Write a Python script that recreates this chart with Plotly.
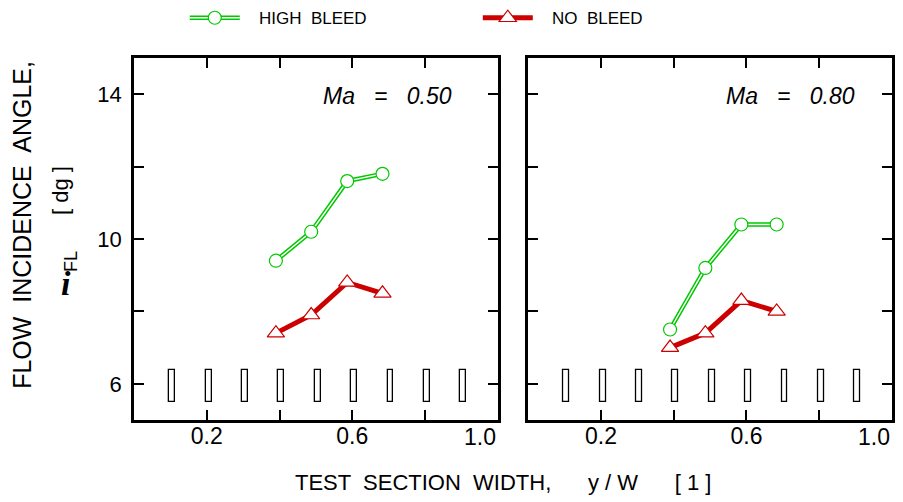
import plotly.graph_objects as go

# ---- data ----
x_pos = [0.39, 0.487, 0.586, 0.683]
high_bleed_050 = [9.4, 10.2, 11.6, 11.8]
no_bleed_050 = [7.4, 7.9, 8.8, 8.5]
high_bleed_080 = [7.5, 9.2, 10.4, 10.4]
no_bleed_080 = [7.0, 7.4, 8.3, 8.0]
probe_x = [0.105, 0.205, 0.305, 0.405, 0.505, 0.605, 0.705, 0.805, 0.905]
probe_base = 5.5
probe_height = 0.87
panel_labels = ["Ma   =   0.50", "Ma   =   0.80"]
x_tickvals = [0.2, 0.4, 0.6, 0.8, 1.0]
x_ticktext = ["0.2", "", "0.6", "", ""]
x_end_label = "1.0"
y_tickvals = [6, 8, 10, 12, 14]
y_ticktext = ["6", "", "10", "", "14"]

GREEN = "#00c800"
RED = "#cc0000"
FONT = "Arial, Liberation Sans, sans-serif"
SERIF = "Liberation Serif, Times New Roman, serif"

fig = go.Figure()

panels = [
    ("x", "y", high_bleed_050, no_bleed_050),
    ("x2", "y2", high_bleed_080, no_bleed_080),
]
for i, (xa, ya, hb, nb) in enumerate(panels):
    first = i == 0
    # probe rectangles
    fig.add_trace(go.Bar(
        x=probe_x, y=[probe_height] * len(probe_x), base=probe_base,
        width=0.016, marker=dict(color="white", line=dict(color="black", width=1.3)),
        xaxis=xa, yaxis=ya, showlegend=False, hoverinfo="skip"))
    # high bleed: outer green
    fig.add_trace(go.Scatter(
        x=x_pos, y=hb, mode="lines", line=dict(color=GREEN, width=4.5),
        name="   HIGH  BLEED", legendgroup="hb", showlegend=first, legend="legend",
        xaxis=xa, yaxis=ya))
    # high bleed: inner white + markers
    fig.add_trace(go.Scatter(
        x=x_pos, y=hb, mode="lines+markers", line=dict(color="white", width=1.5),
        marker=dict(symbol="circle", size=13, color="white", line=dict(color=GREEN, width=1.2)),
        name=" ", legendgroup="hb", showlegend=first, legend="legend2",
        xaxis=xa, yaxis=ya))
    # no bleed
    fig.add_trace(go.Scatter(
        x=x_pos, y=nb, mode="lines+markers", line=dict(color=RED, width=5),
        marker=dict(symbol="triangle-up", size=15, color="white", line=dict(color=RED, width=1.2)),
        name="   NO  BLEED", legendgroup="nb", showlegend=first, legend="legend",
        xaxis=xa, yaxis=ya))

axis_common = dict(
    range=[0, 1], tickvals=x_tickvals, ticktext=x_ticktext, ticks="inside", ticklen=10,
    tickwidth=1.5, tickcolor="black", showline=True, linewidth=2.5, linecolor="black",
    mirror="ticks", showgrid=False, zeroline=False, ticklabelstandoff=-6,
    tickfont=dict(family=FONT, size=23, color="black"))
yaxis_common = dict(
    range=[5, 15], tickvals=y_tickvals, ticktext=y_ticktext, ticks="inside", ticklen=10,
    tickwidth=1.5, tickcolor="black", showline=True, linewidth=2.5, linecolor="black",
    mirror="ticks", showgrid=False, zeroline=False)

fig.update_layout(
    width=903, height=502,
    margin=dict(l=134, r=11, t=58, b=82, autoexpand=False),
    paper_bgcolor="white", plot_bgcolor="white",
    font=dict(family=FONT, color="black"),
    xaxis=dict(domain=[0, 0.48], **axis_common),
    xaxis2=dict(domain=[0.52, 1.0], **axis_common),
    yaxis=dict(domain=[0, 1], anchor="x", ticklabelstandoff=5,
               tickfont=dict(family=FONT, size=22, color="black"), **yaxis_common),
    yaxis2=dict(domain=[0, 1], anchor="x2", showticklabels=False, **yaxis_common),
    showlegend=True,
    legend=dict(orientation="h", x=0.067, y=1.11, xanchor="left", yanchor="middle",
                font=dict(family=FONT, size=17, color="black"), bgcolor="rgba(0,0,0,0)",
                itemwidth=50, entrywidth=228, traceorder="normal"),
    legend2=dict(orientation="h", x=0.067, y=1.11, xanchor="left", yanchor="middle",
                 font=dict(family=FONT, size=17, color="black"), bgcolor="rgba(0,0,0,0)",
                 itemwidth=50),
    bargap=0,
)

annotations = [
    dict(text=panel_labels[0], xref="x", yref="y", x=0.88, y=13.95, xanchor="right",
         yanchor="middle", showarrow=False, font=dict(family=FONT, size=23, style="italic")),
    dict(text=panel_labels[1], xref="x2", yref="y2", x=0.905, y=13.95, xanchor="right",
         yanchor="middle", showarrow=False, font=dict(family=FONT, size=23, style="italic")),
    dict(text=x_end_label, xref="x", yref="paper", x=x_tickvals[-1], y=-0.047, xanchor="right",
         yanchor="middle", showarrow=False, font=dict(family=FONT, size=23)),
    dict(text=x_end_label, xref="x2", yref="paper", x=x_tickvals[-1], y=-0.047, xanchor="right",
         yanchor="middle", showarrow=False, font=dict(family=FONT, size=23)),
    dict(text="TEST  SECTION  WIDTH,      y / W      [ 1 ]", xref="paper", yref="paper",
         x=0.487, y=-0.174, xanchor="center", yanchor="middle", showarrow=False,
         font=dict(family=FONT, size=22)),
    dict(text="FLOW  INCIDENCE  ANGLE,", xref="paper", yref="paper", x=-0.1478, y=0.539,
         xanchor="center", yanchor="middle", textangle=-90, showarrow=False,
         font=dict(family=FONT, size=25)),
    dict(text="[ dg ]", xref="paper", yref="paper", x=-0.0963, y=0.6326,
         xanchor="center", yanchor="middle", textangle=-90, showarrow=False,
         font=dict(family=FONT, size=22)),
    dict(text="<b><i>i</i></b>", xref="paper", yref="paper", x=-0.0897, y=0.3757,
         xanchor="center", yanchor="middle", showarrow=False,
         font=dict(family=SERIF, size=34)),
    dict(text="FL", xref="paper", yref="paper", x=-0.0831, y=0.4365,
         xanchor="center", yanchor="middle", textangle=-90, showarrow=False,
         font=dict(family=FONT, size=18)),
]
fig.update_layout(annotations=annotations)

fig.write_html("out.html", config={"displayModeBar": False},
               post_script="document.body.style.margin='0';")
